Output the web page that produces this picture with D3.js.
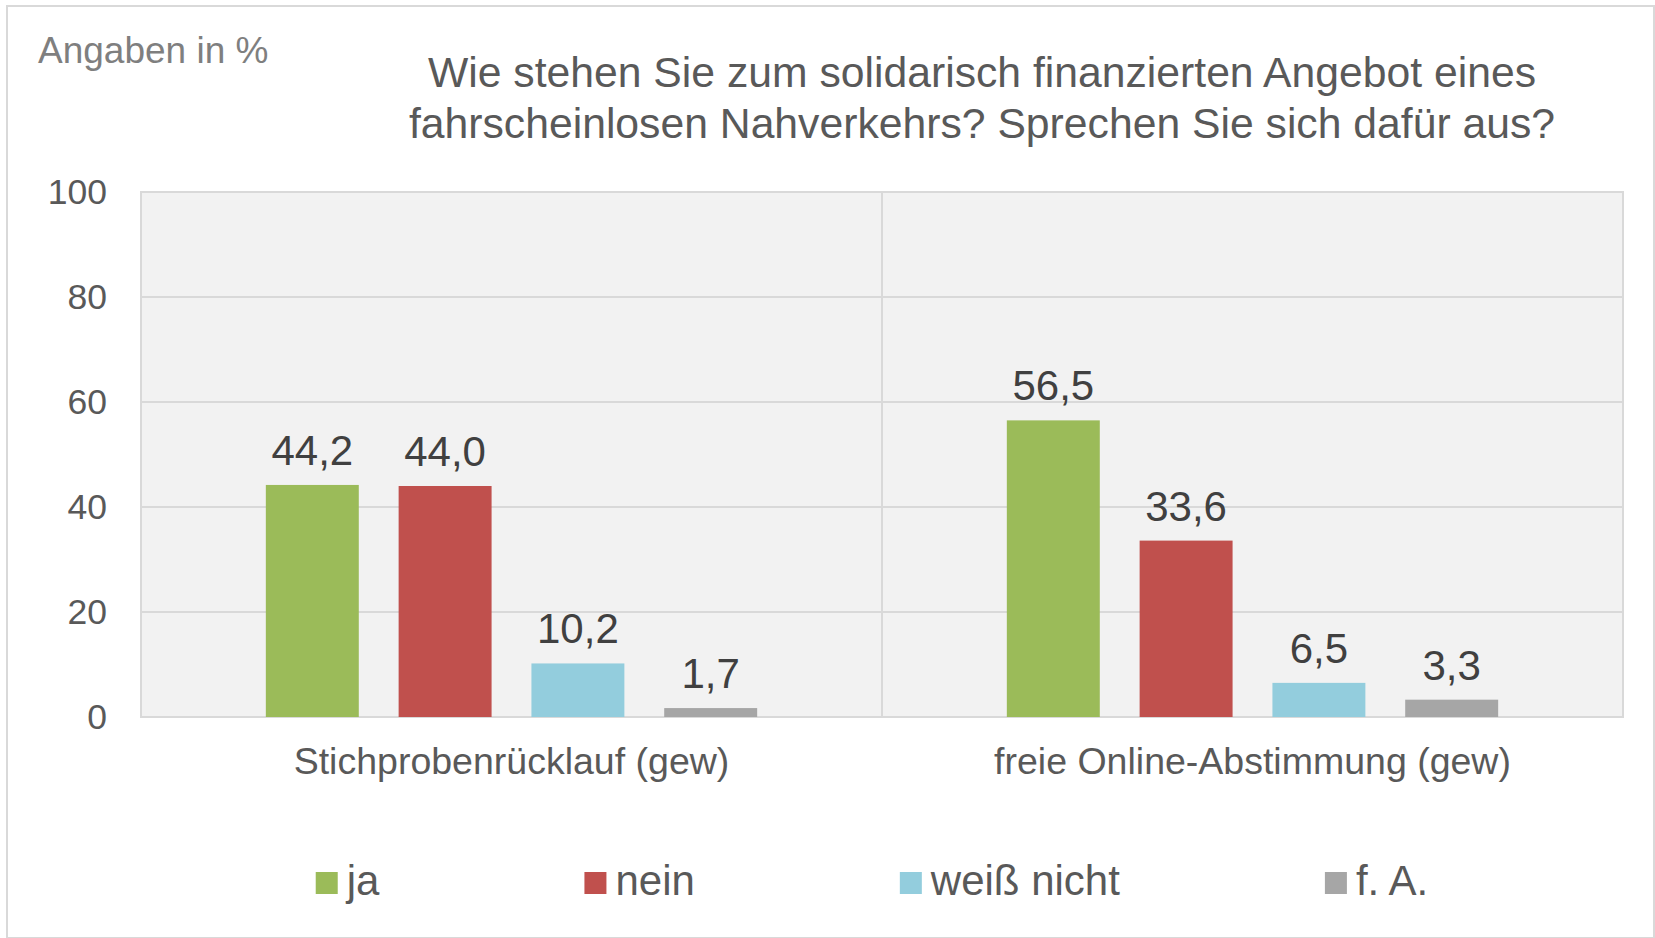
<!DOCTYPE html>
<html>
<head>
<meta charset="utf-8">
<script src="https://cdn.jsdelivr.net/npm/d3@7"></script>
<style>
  body { margin: 0; background: #fff; }
  text { font-family: "Liberation Sans", Arial, sans-serif; }
</style>
</head>
<body>
<svg id="chart" width="1655" height="938"></svg>
<script>
// data
const groups = ['Stichprobenrücklauf (gew)', 'freie Online-Abstimmung (gew)'];
const series = ['ja', 'nein', 'weiß nicht', 'f. A.'];
const stichprobeValues = [44.2, 44.0, 10.2, 1.7];
const onlineValues = [56.5, 33.6, 6.5, 3.3];
const yTicks = [0, 20, 40, 60, 80, 100];
const seriesColors = ['#9BBB59', '#C0504D', '#93CDDD', '#A6A6A6'];
const titleLines = [
  'Wie stehen Sie zum solidarisch finanzierten Angebot eines',
  'fahrscheinlosen Nahverkehrs? Sprechen Sie sich dafür aus?'
];

const rows = [stichprobeValues, onlineValues].map((vals, gi) =>
  series.map((s, si) => ({ group: groups[gi], key: s, value: vals[si] })));

const svg = d3.select('#chart');
const width = 1655, height = 938;
const margin = { top: 192, right: 32, bottom: 221, left: 141 };
const innerWidth = width - margin.left - margin.right;
const innerHeight = height - margin.top - margin.bottom;

const de = d3.formatLocale({ decimal: ',', thousands: '.', grouping: [3], currency: ['', ' €'] });
const fmt = de.format('.1f');

// outer frame
svg.append('rect')
    .attr('x', 7).attr('y', 6)
    .attr('width', width - 8).attr('height', height - 6)
    .attr('fill', 'none')
    .attr('stroke', '#D9D9D9')
    .attr('stroke-width', 2);

// "Angaben in %"
svg.append('text')
    .attr('x', 38).attr('y', 63)
    .style('font-size', '37px')
    .style('fill', '#7F7F7F')
    .text('Angaben in %');

// title
svg.append('text')
    .attr('text-anchor', 'middle')
    .style('font-size', '42.7px')
    .style('fill', '#595959')
    .selectAll('tspan')
    .data(titleLines)
    .enter()
    .append('tspan')
    .attr('x', 982)
    .attr('y', (d, i) => 86.5 + i * 51.5)
    .text(d => d);

const x0 = d3.scaleBand()
    .domain(groups)
    .range([0, innerWidth]);
const x1 = d3.scaleBand()
    .domain(series)
    .range([0, x0.bandwidth()])
    .paddingInner(0.3)
    .paddingOuter(0.94);
const y = d3.scaleLinear()
    .domain([0, 100])
    .range([innerHeight, 0]);
const color = d3.scaleOrdinal().domain(series).range(seriesColors);

const g = svg.append('g')
    .attr('transform', `translate(${margin.left},${margin.top})`);

// plot area
g.append('rect')
    .attr('width', innerWidth).attr('height', innerHeight)
    .attr('fill', '#F2F2F2')
    .attr('stroke', '#D9D9D9')
    .attr('stroke-width', 2);

// horizontal gridlines
g.selectAll('.hgrid')
    .data(yTicks)
    .enter()
    .append('line')
    .attr('x1', 0).attr('x2', innerWidth)
    .attr('y1', d => y(d)).attr('y2', d => y(d))
    .attr('stroke', '#D9D9D9')
    .attr('stroke-width', 2);

// vertical divider between categories
g.selectAll('.vgrid')
    .data(groups.slice(1))
    .enter()
    .append('line')
    .attr('x1', d => x0(d)).attr('x2', d => x0(d))
    .attr('y1', 0).attr('y2', innerHeight)
    .attr('stroke', '#D9D9D9')
    .attr('stroke-width', 2);

// y axis labels
const yAxis = g.append('g')
    .call(d3.axisLeft(y).tickValues(yTicks).tickSize(0).tickPadding(34));
yAxis.select('.domain').remove();
yAxis.selectAll('text')
    .style('font-size', '35.5px')
    .style('fill', '#595959')
    .style('font-family', '"Liberation Sans", Arial, sans-serif');

// x axis labels
const xAxis = g.append('g')
    .attr('transform', `translate(0,${innerHeight})`)
    .call(d3.axisBottom(x0).tickSize(0).tickPadding(30));
xAxis.select('.domain').remove();
xAxis.selectAll('text')
    .style('font-size', '37.5px')
    .style('fill', '#595959')
    .style('font-family', '"Liberation Sans", Arial, sans-serif');

// bars
const grp = g.selectAll('.grp')
    .data(rows)
    .enter()
    .append('g')
    .attr('transform', d => `translate(${x0(d[0].group)},0)`);

grp.selectAll('rect')
    .data(d => d)
    .enter()
    .append('rect')
    .attr('x', d => x1(d.key))
    .attr('y', d => y(d.value))
    .attr('width', x1.bandwidth())
    .attr('height', d => y(0) - y(d.value))
    .style('fill', d => color(d.key));

grp.selectAll('text')
    .data(d => d)
    .enter()
    .append('text')
    .attr('x', d => x1(d.key) + x1.bandwidth() / 2)
    .attr('y', d => y(d.value) - 20)
    .attr('text-anchor', 'middle')
    .style('font-size', '42px')
    .style('fill', '#404040')
    .text(d => fmt(d.value));

// legend
const legend = svg.append('g');
const items = legend.selectAll('g')
    .data(series)
    .enter()
    .append('g');
items.append('rect')
    .attr('width', 22).attr('height', 22)
    .attr('y', 872)
    .style('fill', d => color(d));
items.append('text')
    .attr('x', 31).attr('y', 895)
    .style('font-size', '42px')
    .style('fill', '#595959')
    .text(d => d);

let lx = 0;
items.each(function () {
    const w = d3.select(this).select('text').node().getComputedTextLength();
    d3.select(this).attr('data-x', lx);
    lx += 31 + w + 205;
});
const legendWidth = lx - 205;
const legendStart = 872 - legendWidth / 2;
items.attr('transform', function () {
    return `translate(${legendStart + +d3.select(this).attr('data-x')},0)`;
});
</script>
</body>
</html>
